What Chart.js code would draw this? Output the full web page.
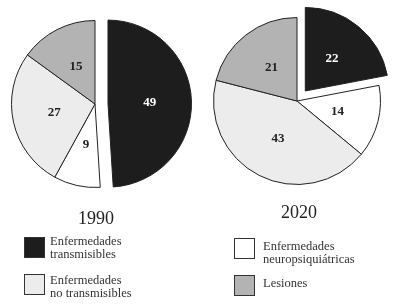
<!DOCTYPE html>
<html>
<head>
<meta charset="utf-8">
<script src="https://cdn.jsdelivr.net/npm/chart.js@4/dist/chart.umd.min.js"></script>
<style>
  html, body { margin:0; padding:0; background:#fff; }
  body { width:397px; height:306px; position:relative; overflow:hidden; font-family:"Liberation Serif","DejaVu Serif",serif; color:#222; }
  canvas { position:absolute; }
  .year { position:absolute; font-size:18px; transform:translate(-50%,-50%); white-space:nowrap; }
  .sw { position:absolute; width:19px; height:19px; border:1px solid #333; box-sizing:content-box; }
  .lt { position:absolute; font-size:12.5px; line-height:13px; white-space:nowrap; color:#333; }
</style>
</head>
<body>
<canvas id="c1990" width="220" height="220" style="left:-15px;top:-6px"></canvas>
<canvas id="c2020" width="220" height="220" style="left:187px;top:-9px"></canvas>
<div class="year" style="left:96px;top:218px">1990</div>
<div class="year" style="left:299px;top:212px">2020</div>
<div id="legend"></div>
<script>
const categories = ["Enfermedades transmisibles", "Enfermedades neuropsiquiátricas", "Enfermedades no transmisibles", "Lesiones"];
const values1990 = [49, 9, 27, 15];
const values2020 = [22, 14, 43, 21];
const years = ["1990", "2020"];

const fillColors = ["#1d1d1d", "#ffffff", "#ececec", "#b3b3b3"];
const textColors = ["#ffffff", "#222222", "#222222", "#222222"];
const explodeShift = [13, 0, 0, 0];

// Move exploded slice outward along its mid-angle (keeps radius unchanged)
const explodePlugin = {
  id: 'explode',
  afterDatasetsUpdate(chart) {
    const meta = chart.getDatasetMeta(0);
    meta.data.forEach((arc, i) => {
      const s = explodeShift[i];
      if (!s) return;
      const mid = (arc.startAngle + arc.endAngle) / 2;
      arc.x += Math.cos(mid) * s;
      arc.y += Math.sin(mid) * s;
    });
  }
};

const labelPlugin = {
  id: 'sliceLabels',
  afterDatasetsDraw(chart) {
    const ctx = chart.ctx;
    const meta = chart.getDatasetMeta(0);
    const data = chart.data.datasets[0].data;
    ctx.save();
    ctx.font = 'bold 13px "Liberation Serif", serif';
    ctx.textAlign = 'center';
    ctx.textBaseline = 'middle';
    meta.data.forEach((arc, i) => {
      const mid = (arc.startAngle + arc.endAngle) / 2;
      const d = arc.outerRadius * 0.5;
      ctx.fillStyle = textColors[i];
      ctx.fillText(String(data[i]), arc.x + Math.cos(mid) * d, arc.y + Math.sin(mid) * d);
    });
    ctx.restore();
  }
};

function makePie(id, values) {
  new Chart(document.getElementById(id), {
    type: 'pie',
    data: {
      labels: categories,
      datasets: [{
        data: values,
        backgroundColor: fillColors,
        borderColor: '#222',
        borderWidth: 1
      }]
    },
    options: {
      responsive: false,
      animation: false,
      layout: { padding: 26 },
      plugins: { legend: { display: false }, tooltip: { enabled: false } }
    },
    plugins: [explodePlugin, labelPlugin]
  });
}
makePie('c1990', values1990);
makePie('c2020', values2020);

// legend
const legendPos = [
  { sx: 24, sy: 237, tx: 50, ty: 235 },
  { sx: 234, sy: 238, tx: 263, ty: 240 },
  { sx: 24, sy: 274, tx: 50, ty: 274 },
  { sx: 234, sy: 275, tx: 263, ty: 277 }
];
const legend = document.getElementById('legend');
categories.forEach((c, i) => {
  const p = legendPos[i];
  const sw = document.createElement('div');
  sw.className = 'sw';
  sw.style.left = p.sx + 'px';
  sw.style.top = p.sy + 'px';
  sw.style.background = fillColors[i];
  legend.appendChild(sw);
  const t = document.createElement('div');
  t.className = 'lt';
  t.style.left = p.tx + 'px';
  t.style.top = p.ty + 'px';
  const idx = c.indexOf(' ');
  t.innerHTML = idx > 0 ? c.slice(0, idx) + '<br>' + c.slice(idx + 1) : c;
  legend.appendChild(t);
});
</script>
</body>
</html>
